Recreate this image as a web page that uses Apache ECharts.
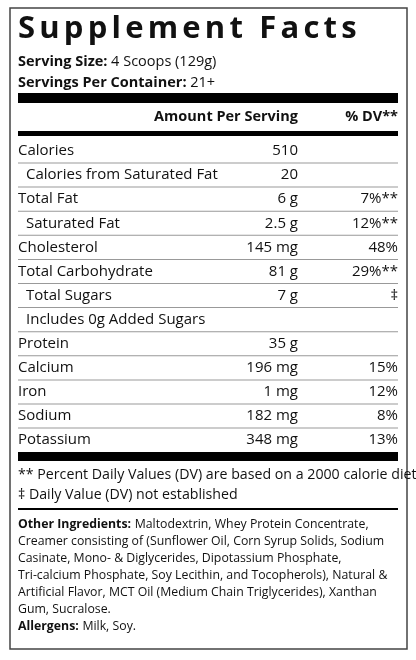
<!DOCTYPE html>
<html><head><meta charset="utf-8">
<script src="https://cdn.jsdelivr.net/npm/echarts@6/dist/echarts.min.js"></script>
<style>html,body{margin:0;padding:0;background:#fff}#label{width:416px;height:660px}</style>
</head><body><div id="label"></div>
<script>
const titleText = 'Supplement Facts';
const servingSize = '4 Scoops (129g)';
const servingsPerContainer = '21+';
const nutrients = ['Calories', 'Calories from Saturated Fat', 'Total Fat', 'Saturated Fat', 'Cholesterol',
    'Total Carbohydrate', 'Total Sugars', 'Includes 0g Added Sugars', 'Protein', 'Calcium', 'Iron', 'Sodium', 'Potassium'];
const amounts = ['510', '20', '6 g', '2.5 g', '145 mg', '81 g', '7 g', '', '35 g', '196 mg', '1 mg', '182 mg', '348 mg'];
const dailyValues = ['', '', '7%**', '12%**', '48%', '29%**', '‡', '', '', '15%', '12%', '8%', '13%'];
const indented = [false, true, false, true, false, false, true, true, false, false, false, false, false];
const footnotes = ['** Percent Daily Values (DV) are based on a 2000 calorie diet', '‡ Daily Value (DV) not established'];
const ingredientLines = [
    'Maltodextrin, Whey Protein Concentrate,',
    'Creamer consisting of (Sunflower Oil, Corn Syrup Solids, Sodium',
    'Casinate, Mono- & Diglycerides, Dipotassium Phosphate,',
    'Tri-calcium Phosphate, Soy Lecithin, and Tocopherols), Natural &',
    'Artificial Flavor, MCT Oil (Medium Chain Triglycerides), Xanthan',
    'Gum, Sucralose.'
];
const allergens = 'Milk, Soy.';

const FONT = '"Open Sans", "Noto Sans", sans-serif';
const L = 18, R = 398;
const chart = echarts.init(document.getElementById('label'));
const els = [];

function txt(x, y, text, opt) {
    els.push({ type: 'text', x: x, y: y, style: Object.assign({
        text: text, fontFamily: FONT, fontSize: 14, fill: '#111', verticalAlign: 'middle', textAlign: 'left'
    }, opt || {}) });
}
function bar(y, h, color) {
    els.push({ type: 'rect', shape: { x: L, y: y, width: R - L, height: h }, style: { fill: color || '#000' } });
}

// border
els.push({ type: 'rect', shape: { x: 10, y: 8, width: 397, height: 641 }, style: { fill: 'none', stroke: '#444', lineWidth: 1.5 } });

// title with letter spacing
const ctx = document.createElement('canvas').getContext('2d');
ctx.font = 'bold 31px ' + FONT;
let tx = L;
const spacing = 4.2;
for (const ch of titleText) {
    txt(tx, 29, ch, { fontSize: 31, fontWeight: 'bold' });
    tx += ctx.measureText(ch).width + spacing;
}

const rich = { b: { fontWeight: 'bold', fontFamily: FONT, fontSize: 14.5, fill: '#111' }, n: { fontFamily: FONT, fontSize: 14.5, fill: '#111' } };
txt(L, 62, '{b|Serving Size:} {n|' + servingSize + '}', { rich: rich });
txt(L, 83, '{b|Servings Per Container:} {n|' + servingsPerContainer + '}', { rich: rich });

bar(93, 10);
txt(298, 117, 'Amount Per Serving', { fontWeight: 'bold', textAlign: 'right', fontSize: 14.5 });
txt(R, 117, '% DV**', { fontWeight: 'bold', textAlign: 'right', fontSize: 14.5 });
bar(131, 5);

const rowTop = 151, rowStep = 24.1;
nutrients.forEach((name, i) => {
    const y = rowTop + i * rowStep;
    txt(L + (indented[i] ? 8 : 0), y, name, { fontSize: 15 });
    if (amounts[i]) txt(298, y, amounts[i], { fontSize: 15, textAlign: 'right' });
    if (dailyValues[i]) txt(R, y, dailyValues[i], { fontSize: 15, textAlign: 'right' });
    if (i < nutrients.length - 1) bar(y + 11.5, 1, '#999');
});

bar(452, 9);
txt(L, 475, footnotes[0], { fontSize: 14.2 });
txt(L, 495, footnotes[1], { fontSize: 14.2 });
bar(508, 2);

const small = { b: { fontWeight: 'bold', fontFamily: FONT, fontSize: 12.3, fill: '#111' }, n: { fontFamily: FONT, fontSize: 12.3, fill: '#111' } };
ingredientLines.forEach((line, i) => {
    const y = 524 + i * 17;
    const t = i === 0 ? '{b|Other Ingredients:} {n|' + line + '}' : '{n|' + line + '}';
    txt(L, y, t, { rich: small });
});
txt(L, 626, '{b|Allergens:} {n|' + allergens + '}', { rich: small });

chart.setOption({ animation: false, graphic: { elements: els } });
</script></body></html>
